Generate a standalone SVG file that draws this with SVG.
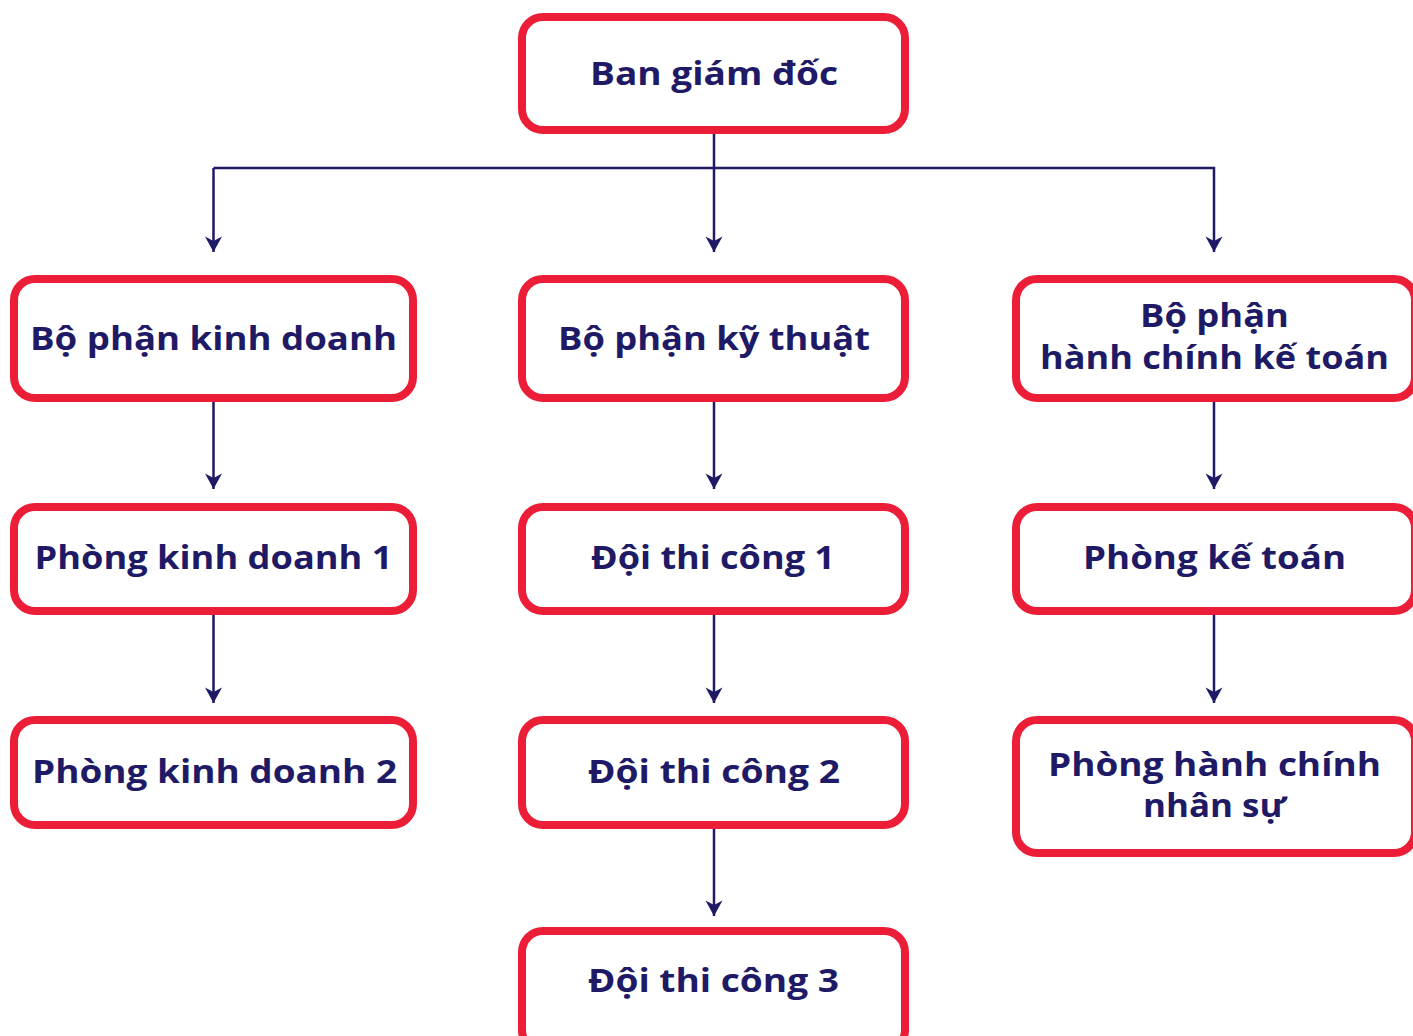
<svg xmlns="http://www.w3.org/2000/svg" width="1413" height="1036" viewBox="0 0 1413 1036">
<style>
.box{fill:#ffffff;stroke:#EC1E37;stroke-width:8}
.lbl{font-family:"Open Sans","Liberation Sans",sans-serif;font-weight:700;font-size:33px;fill:#1F1A66;text-anchor:middle}
.con{fill:none;stroke:#1F1A66;stroke-width:2.5}
</style>
<defs>
<marker id="ah" markerUnits="userSpaceOnUse" viewBox="-16 -9 17 18" refX="0" refY="0" markerWidth="17" markerHeight="18" orient="auto">
<path d="M0,0 L-15.5,-8.5 L-11,0 L-15.5,8.5 Z" fill="#1F1A66"/>
</marker>
</defs>
<rect width="1413" height="1036" fill="#ffffff"/>
<g id="connectors">
<path class="con" d="M714,134 V252" marker-end="url(#ah)"/>
<path class="con" d="M213.5,168 H1214 V252" marker-end="url(#ah)"/>
<path class="con" d="M213.5,168 V252" marker-end="url(#ah)"/>
<path class="con" d="M213.5,402 V489" marker-end="url(#ah)"/>
<path class="con" d="M714,402 V489" marker-end="url(#ah)"/>
<path class="con" d="M1214,402 V489" marker-end="url(#ah)"/>
<path class="con" d="M213.5,615 V703" marker-end="url(#ah)"/>
<path class="con" d="M714,615 V703" marker-end="url(#ah)"/>
<path class="con" d="M1214,615 V703" marker-end="url(#ah)"/>
<path class="con" d="M714,829 V916" marker-end="url(#ah)"/>
</g>
<g id="ban-giam-doc">
<rect class="box" x="522" y="17" width="383" height="113" rx="21"/>
<text class="lbl" x="714" y="85" textLength="248" lengthAdjust="spacingAndGlyphs">Ban giám đốc</text>
</g>
<g id="bo-phan-kinh-doanh">
<rect class="box" x="14" y="279" width="399" height="119" rx="21"/>
<text class="lbl" x="213.5" y="350" textLength="367" lengthAdjust="spacingAndGlyphs">Bộ phận kinh doanh</text>
</g>
<g id="bo-phan-ky-thuat">
<rect class="box" x="522" y="279" width="383" height="119" rx="21"/>
<text class="lbl" x="714" y="350" textLength="312" lengthAdjust="spacingAndGlyphs">Bộ phận kỹ thuật</text>
</g>
<g id="bo-phan-hanh-chinh-ke-toan">
<rect class="box" x="1016" y="279" width="399" height="119" rx="21"/>
<text class="lbl" x="1214.5" y="327" textLength="149" lengthAdjust="spacingAndGlyphs">Bộ phận</text>
<text class="lbl" x="1214.5" y="369" textLength="349" lengthAdjust="spacingAndGlyphs">hành chính kế toán</text>
</g>
<g id="phong-kinh-doanh-1">
<rect class="box" x="14" y="507" width="399" height="104" rx="21"/>
<text class="lbl" x="213.5" y="569" textLength="358" lengthAdjust="spacingAndGlyphs">Phòng kinh doanh 1</text>
</g>
<g id="doi-thi-cong-1">
<rect class="box" x="522" y="507" width="383" height="104" rx="21"/>
<text class="lbl" x="713" y="569" textLength="244" lengthAdjust="spacingAndGlyphs">Đội thi công 1</text>
</g>
<g id="phong-ke-toan">
<rect class="box" x="1016" y="507" width="399" height="104" rx="21"/>
<text class="lbl" x="1214.5" y="569" textLength="263" lengthAdjust="spacingAndGlyphs">Phòng kế toán</text>
</g>
<g id="phong-kinh-doanh-2">
<rect class="box" x="14" y="720" width="399" height="105" rx="21"/>
<text class="lbl" x="214.5" y="783" textLength="365" lengthAdjust="spacingAndGlyphs">Phòng kinh doanh 2</text>
</g>
<g id="doi-thi-cong-2">
<rect class="box" x="522" y="720" width="383" height="105" rx="21"/>
<text class="lbl" x="714" y="783" textLength="252" lengthAdjust="spacingAndGlyphs">Đội thi công 2</text>
</g>
<g id="phong-hanh-chinh-nhan-su">
<rect class="box" x="1016" y="720" width="399" height="133" rx="21"/>
<text class="lbl" x="1214.5" y="776" textLength="333" lengthAdjust="spacingAndGlyphs">Phòng hành chính</text>
<text class="lbl" x="1214.5" y="817" textLength="143" lengthAdjust="spacingAndGlyphs">nhân sự</text>
</g>
<g id="doi-thi-cong-3">
<rect class="box" x="522" y="931" width="383" height="120" rx="21"/>
<text class="lbl" x="713.5" y="992" textLength="251" lengthAdjust="spacingAndGlyphs">Đội thi công 3</text>
</g>
</svg>
